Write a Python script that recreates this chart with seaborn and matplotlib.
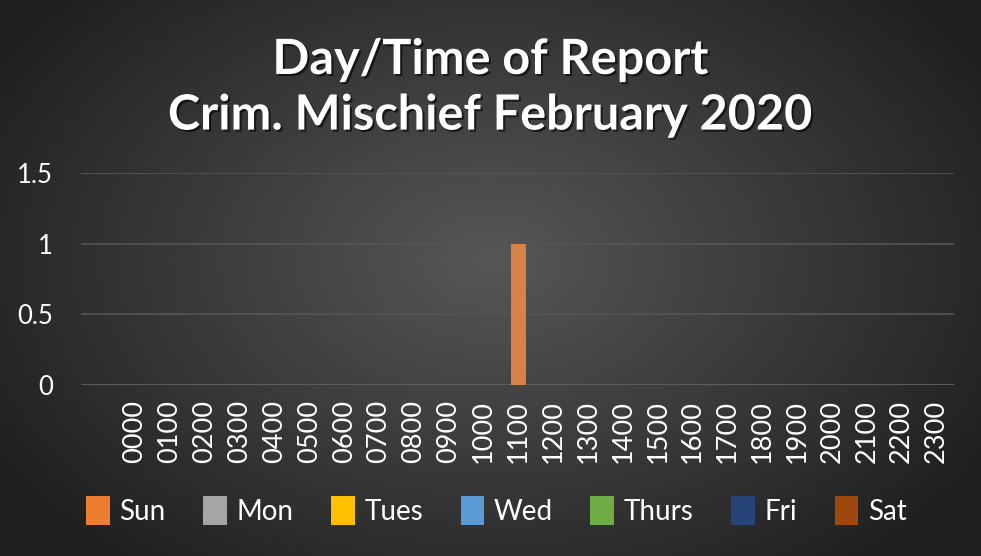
import numpy as np
import pandas as pd
import matplotlib
matplotlib.use("Agg")
import matplotlib.pyplot as plt
import matplotlib.patheffects as pe
from matplotlib.patches import Patch
import seaborn as sns

# data
hours = ['0000', '0100', '0200', '0300', '0400', '0500', '0600', '0700',
         '0800', '0900', '1000', '1100', '1200', '1300', '1400', '1500',
         '1600', '1700', '1800', '1900', '2000', '2100', '2200', '2300']
days = ['Sun', 'Mon', 'Tues', 'Wed', 'Thurs', 'Fri', 'Sat']
sun = [0]*11 + [1] + [0]*12
mon = [0]*24
tues = [0]*24
wed = [0]*24
thurs = [0]*24
fri = [0]*24
sat = [0]*24
day_colors = ['#ED7D31', '#A5A5A5', '#FFC000', '#5B9BD5', '#70AD47', '#264478', '#9E480E']

series = [sun, mon, tues, wed, thurs, fri, sat]
rows = []
for d, vals in zip(days, series):
    for h, v in zip(hours, vals):
        rows.append({'hour': h, 'day': d, 'count': v})
df = pd.DataFrame(rows)

sns.set_style("dark")
plt.rcParams['font.family'] = ['Lato', 'DejaVu Sans']

fig = plt.figure(figsize=(9.81, 5.56), dpi=100)

# radial gradient background
bg = fig.add_axes([0, 0, 1, 1], zorder=0)
yy, xx = np.mgrid[0:556, 0:981]
r = np.sqrt(((xx - 490) / 560.0) ** 2 + ((yy - 260) / 380.0) ** 2)
shade = np.clip(0.34 - 0.21 * r, 0.12, 0.34)
bg.imshow(np.dstack([shade] * 3), aspect='auto', extent=[0, 1, 0, 1])
bg.axis('off')

ax = fig.add_axes([0.0826, 0.3076, 0.8899, 0.3813], zorder=1)
ax.patch.set_alpha(0)

sns.barplot(data=df, x='hour', y='count', hue='day', order=hours, hue_order=days,
            palette=day_colors, dodge=False, width=0.43, ax=ax, legend=False,
            edgecolor='none')

ax.set_xlim(-1.55, 23.5)
ax.set_ylim(0, 1.5)
ax.set_yticks([0, 0.5, 1, 1.5])
ax.set_yticklabels(['0', '0.5', '1', '1.5'])
ax.grid(axis='y', color='#555555', linewidth=1.2)
ax.grid(axis='x', visible=False)
ax.set_axisbelow(True)
for s in ax.spines.values():
    s.set_visible(False)
ax.axhline(0, color='#8c8c8c', linewidth=2, zorder=0.5)
ax.set_xlabel('')
ax.set_ylabel('')
ax.tick_params(axis='x', labelrotation=90, colors='white', labelsize=19.5, length=0, pad=11)
ax.tick_params(axis='y', colors='white', labelsize=18.5, length=0, pad=20)
for lab in ax.get_yticklabels():
    lab.set_color('white')

shadow = [pe.withSimplePatchShadow(offset=(1.5, -1.5), shadow_rgbFace='black', alpha=0.6)]
fig.text(0.5, 0.893, 'Day/Time of Report', ha='center', va='center', color='white',
         fontsize=35, fontweight='bold', path_effects=shadow)
fig.text(0.5, 0.793, 'Crim. Mischief February 2020', ha='center', va='center', color='white',
         fontsize=35, fontweight='bold', path_effects=shadow)

handles = [Patch(facecolor=c, edgecolor='none', label=d) for d, c in zip(days, day_colors)]
leg = fig.legend(handles=handles, loc='center', bbox_to_anchor=(0.506, 0.082), ncol=7,
                 frameon=False, fontsize=20, labelcolor='white', handlelength=0.85,
                 handleheight=1.25, handletextpad=0.35, columnspacing=1.35)

fig.savefig('out.png', dpi=100)
